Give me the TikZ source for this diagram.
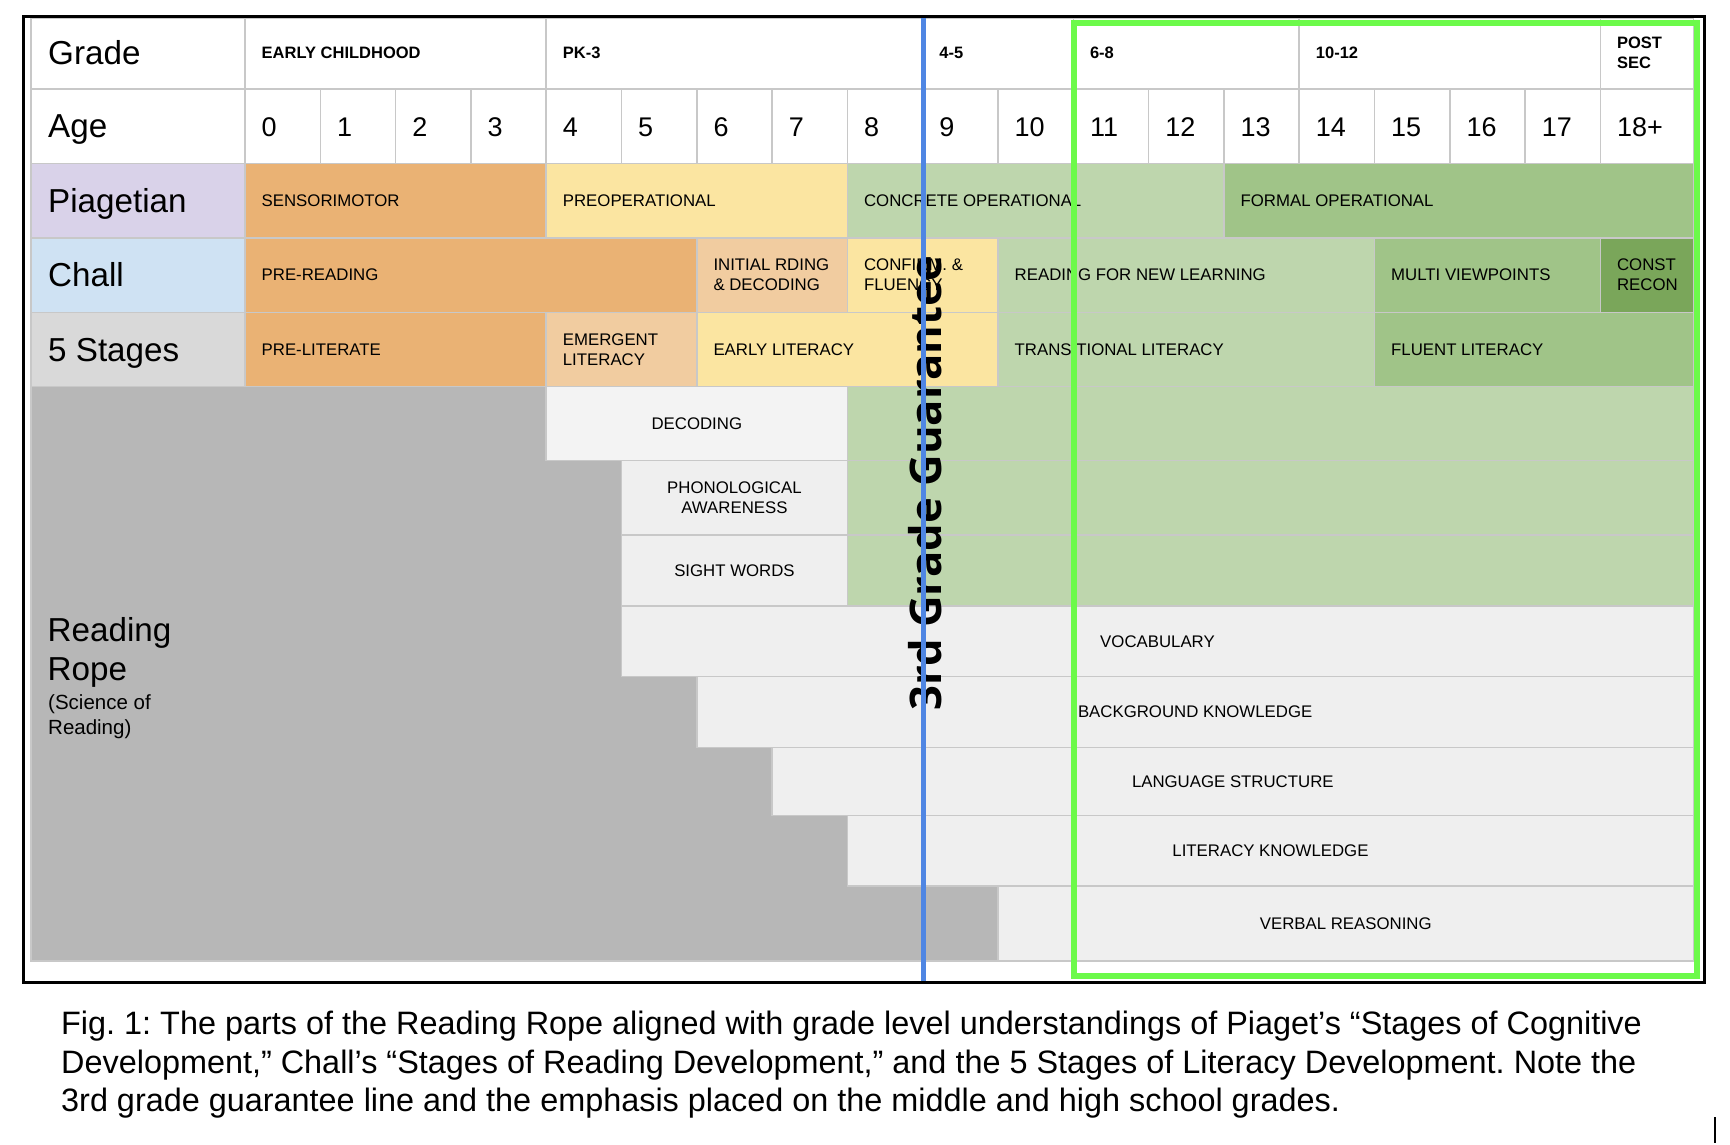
\documentclass[tikz,border=0pt]{standalone}
\usepackage{fontspec}
\setmainfont{Liberation Sans}
\newfontfamily\gfont{Open Sans}
\frenchspacing
\definecolor{gridc}{HTML}{C8C8C8}
\definecolor{orng}{HTML}{EAB274}
\definecolor{peach}{HTML}{F1CCA0}
\definecolor{yell}{HTML}{FBE5A1}
\definecolor{lgrn}{HTML}{BED6AD}
\definecolor{mgrn}{HTML}{A0C488}
\definecolor{dgrn}{HTML}{7AA65A}
\definecolor{piac}{HTML}{D9D2E9}
\definecolor{chac}{HTML}{CFE2F3}
\definecolor{stgc}{HTML}{D9D9D9}
\definecolor{ropec}{HTML}{B7B7B7}
\definecolor{lite}{HTML}{EFEFEF}
\definecolor{lite2}{HTML}{F3F3F3}
\definecolor{bline}{HTML}{4F86E3}
\definecolor{gline}{HTML}{6CFA4A}
\tikzset{
  cell/.style={draw=gridc, line width=1.5, rectangle, inner sep=0, outer sep=0, anchor=north west},
  small/.style={font=\fontsize{16.8}{20}\selectfont, inner sep=0, align=left},
  smallc/.style={font=\fontsize{16.8}{20}\selectfont, inner sep=0, align=center},
  smallb/.style={font=\bfseries\fontsize{16.5}{20}\selectfont, inner sep=0, align=left},
  big/.style={font=\fontsize{33.2}{38}\selectfont, inner sep=0},
  sci/.style={font=\fontsize{20.5}{24}\selectfont, inner sep=0},
  num/.style={font=\fontsize{27}{30}\selectfont, inner sep=0},
  capt/.style={font=\fontsize{32.4}{36}\selectfont, inner sep=0},
  gtext/.style={font=\gfont\bfseries\fontsize{43.6}{48}\selectfont, inner sep=0},
  blueline/.style={draw=bline, line width=5.5},
  greenbox/.style={draw=gline, line width=6},
  frame/.style={draw=black, line width=3},
}
\newcommand\mycell[6]{\node[cell, fill=#6, minimum width={#4-#2}, minimum height={#5-#3}] (#1) at (#2,#3) {};}
\begin{document}
\begin{tikzpicture}[x=1pt,y=-1pt]
\useasboundingbox (0,0) rectangle (1730,1144);
\fill[white] (0,0) rectangle (1730,1144);

% Grade row
\mycell{g-lab}{31}{18.5}{245}{89}{white}
\mycell{g-ec}{245}{18.5}{546.2}{89}{white}
\mycell{g-pk}{546.2}{18.5}{922.7}{89}{white}
\mycell{g-45}{922.7}{18.5}{1073.3}{89}{white}
\mycell{g-68}{1073.3}{18.5}{1299.2}{89}{white}
\mycell{g-1012}{1299.2}{18.5}{1600.4}{89}{white}
\mycell{g-post}{1600.4}{18.5}{1693.5}{89}{white}

% Age row
\mycell{a-lab}{31}{89}{245}{163.5}{white}
\foreach \i in {0,...,17}{
  \node[cell, fill=white, minimum width=75.3, minimum height=74.5] (a\i) at ({245+75.3*\i},89) {};
  \node[num, anchor=west] (ta\i) at ([xshift=16.5,yshift=-0.8]a\i.west) {\i};
}
\mycell{a18}{1600.4}{89}{1693.5}{163.5}{white}
\node[num, anchor=west] (ta18) at ([xshift=16.5,yshift=-0.8]a18.west) {18+};

% Piagetian row
\mycell{p-lab}{31}{163.5}{245}{238}{piac}
\mycell{p-sens}{245}{163.5}{546.2}{238}{orng}
\mycell{p-pre}{546.2}{163.5}{847.4}{238}{yell}
\mycell{p-conc}{847.4}{163.5}{1223.9}{238}{lgrn}
\mycell{p-form}{1223.9}{163.5}{1693.5}{238}{mgrn}

% Chall row
\mycell{c-lab}{31}{238}{245}{312.3}{chac}
\mycell{c-pre}{245}{238}{696.8}{312.3}{orng}
\mycell{c-init}{696.8}{238}{847.4}{312.3}{peach}
\mycell{c-conf}{847.4}{238}{998}{312.3}{yell}
\mycell{c-rnl}{998}{238}{1374.5}{312.3}{lgrn}
\mycell{c-multi}{1374.5}{238}{1600.4}{312.3}{mgrn}
\mycell{c-const}{1600.4}{238}{1693.5}{312.3}{dgrn}

% 5 Stages row
\mycell{s-lab}{31}{312.3}{245}{386.7}{stgc}
\mycell{s-plit}{245}{312.3}{546.2}{386.7}{orng}
\mycell{s-emer}{546.2}{312.3}{696.8}{386.7}{peach}
\mycell{s-early}{696.8}{312.3}{998}{386.7}{yell}
\mycell{s-trans}{998}{312.3}{1374.5}{386.7}{lgrn}
\mycell{s-fluent}{1374.5}{312.3}{1693.5}{386.7}{mgrn}

% Reading rope
\mycell{r-area}{31}{386.7}{998}{961}{ropec}
\mycell{r-dec}{546.2}{386.7}{847.4}{460.7}{lite2}
\mycell{r-dec-g}{847.4}{386.7}{1693.5}{460.7}{lgrn}
\mycell{r-pho}{621.5}{460.7}{847.4}{535}{lite}
\mycell{r-pho-g}{847.4}{460.7}{1693.5}{535}{lgrn}
\mycell{r-sig}{621.5}{535}{847.4}{606}{lite}
\mycell{r-sig-g}{847.4}{535}{1693.5}{606}{lgrn}
\mycell{r-voc}{621.5}{606}{1693.5}{676.6}{lite}
\mycell{r-bac}{696.8}{676.6}{1693.5}{747.4}{lite}
\mycell{r-lan}{772.1}{747.4}{1693.5}{815.5}{lite}
\mycell{r-lit}{847.4}{815.5}{1693.5}{886}{lite}
\mycell{r-ver}{998}{886}{1693.5}{961}{lite}

% Row labels
\node[big, anchor=base west] (t-grade) at (48,64.5) {Grade};
\node[big, anchor=base west] (t-age) at (48,137.8) {Age};
\node[big, anchor=base west] (t-pia) at (48,212.3) {Piagetian};
\node[big, anchor=base west] (t-chall) at (48,286.8) {Chall};
\node[big, anchor=base west] (t-stg) at (48,361.2) {5 Stages};
\node[big, anchor=base west] (t-rope1) at (47.5,641.7) {Reading};
\node[big, anchor=base west] (t-rope2) at (47.5,680) {Rope};
\node[sci, anchor=base west] (t-rope3) at (48,709.3) {(Science of};
\node[sci, anchor=base west] (t-rope4) at (48,734) {Reading)};

% Grade labels
\node[smallb, anchor=west] (t-ec) at ([xshift=16.5,yshift=1]g-ec.west) {EARLY CHILDHOOD};
\node[smallb, anchor=west] (t-pk) at ([xshift=16.5,yshift=1]g-pk.west) {PK-3};
\node[smallb, anchor=west] (t-45) at ([xshift=16.5,yshift=1]g-45.west) {4-5};
\node[smallb, anchor=west] (t-68) at ([xshift=16.5,yshift=1]g-68.west) {6-8};
\node[smallb, anchor=west] (t-1012) at ([xshift=16.5,yshift=1]g-1012.west) {10-12};
\node[smallb, anchor=west] (t-post) at ([xshift=16.5,yshift=1]g-post.west) {POST\\SEC};

% Stage texts
\node[small, anchor=west] (t-sens) at ([xshift=16.5]p-sens.west) {SENSORIMOTOR};
\node[small, anchor=west] (t-preop) at ([xshift=16.5]p-pre.west) {PREOPERATIONAL};
\node[small, anchor=west] (t-conc) at ([xshift=16.5]p-conc.west) {CONCRETE OPERATIONAL};
\node[small, anchor=west] (t-form) at ([xshift=16.5]p-form.west) {FORMAL OPERATIONAL};
\node[small, anchor=west] (t-prer) at ([xshift=16.5]c-pre.west) {PRE-READING};
\node[small, anchor=west] (t-init) at ([xshift=16.5]c-init.west) {INITIAL RDING\\\& DECODING};
\node[small, anchor=west] (t-conf) at ([xshift=16.5]c-conf.west) {CONFIRM. \&\\FLUENCY};
\node[small, anchor=west] (t-rnl) at ([xshift=16.5]c-rnl.west) {READING FOR NEW LEARNING};
\node[small, anchor=west] (t-multi) at ([xshift=16.5]c-multi.west) {MULTI VIEWPOINTS};
\node[small, anchor=west] (t-const) at ([xshift=16.5]c-const.west) {CONST\\RECON};
\node[small, anchor=west] (t-plit) at ([xshift=16.5]s-plit.west) {PRE-LITERATE};
\node[small, anchor=west] (t-emer) at ([xshift=16.5]s-emer.west) {EMERGENT\\LITERACY};
\node[small, anchor=west] (t-early) at ([xshift=16.5]s-early.west) {EARLY LITERACY};
\node[small, anchor=west] (t-trans) at ([xshift=16.5]s-trans.west) {TRANSITIONAL LITERACY};
\node[small, anchor=west] (t-fluent) at ([xshift=16.5]s-fluent.west) {FLUENT LITERACY};

% Rope texts
\node[smallc] (t-dec) at (r-dec) {DECODING};
\node[smallc] (t-pho) at (r-pho) {PHONOLOGICAL\\AWARENESS};
\node[smallc] (t-sig) at (r-sig) {SIGHT WORDS};
\node[smallc] (t-voc) at (r-voc) {VOCABULARY};
\node[smallc] (t-bac) at (r-bac) {BACKGROUND KNOWLEDGE};
\node[smallc] (t-lan) at (r-lan) {LANGUAGE STRUCTURE};
\node[smallc] (t-lit) at (r-lit) {LITERACY KNOWLEDGE};
\node[smallc] (t-ver) at (r-ver) {VERBAL REASONING};

% 3rd grade guarantee
\node[gtext, rotate=90] (t-3rd) at (925,483) {3rd Grade Guarantee};
\coordinate (b-top) at (923.5,17.5);
\coordinate (b-bot) at (923.5,982);
\draw[blueline] (b-top) -- (b-bot);

% emphasis box
\draw[greenbox] (1074.3,23.3) rectangle (1696.7,975.7);

% outer frame
\draw[frame] (23.5,16) rectangle (1704.7,982);

% caption
\node[capt, anchor=base west] (cap1) at (61,1034.5) {Fig. 1: The parts of the Reading Rope aligned with grade level understandings of Piaget’s “Stages of Cognitive};
\node[capt, anchor=base west] (cap2) at (61,1073.2) {Development,” Chall’s “Stages of Reading Development,” and the 5 Stages of Literacy Development. Note the};
\node[capt, anchor=base west] (cap3) at (61,1111.8) {3rd grade guarantee line and the emphasis placed on the middle and high school grades.};

% cursor mark
\coordinate (k-top) at (1715,1117);
\coordinate (k-bot) at (1715,1143);
\draw[line width=2.5] (k-top) -- (k-bot);
\end{tikzpicture}
\end{document}
